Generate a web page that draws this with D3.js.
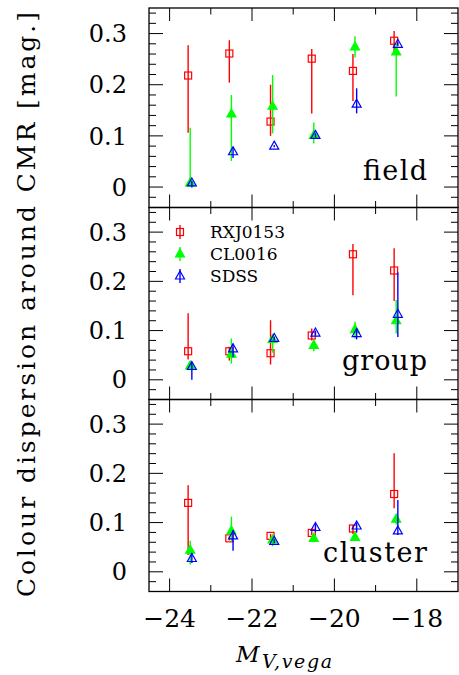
<!DOCTYPE html>
<html><head><meta charset="utf-8">
<script src="https://cdn.jsdelivr.net/npm/d3@7"></script>
<style>body{margin:0;background:#fff}svg{display:block}</style>
</head><body>
<script>
// ---- data ----
const xTicks = [-24, -23, -22, -21, -20, -19, -18];
const xTickLabels = ["\u221224", "\u221222", "\u221220", "\u221218"];
const yTicks = [0, 0.1, 0.2, 0.3];
const yTickLabels = ["0", "0.1", "0.2", "0.3"];
const panelNames = ["field", "group", "cluster"];
const seriesNames = ["RXJ0153", "CL0016", "SDSS"];

// magnitudes for each sample
const xRXJ = [-23.55, -22.55, -21.55, -20.55, -19.55, -18.55];
const xCL = [-23.50, -22.50, -21.50, -20.50, -19.50, -18.50];
const xSDSS = [-23.46, -22.46, -21.46, -20.46, -19.46, -18.46];

// [value, lower, upper]
const fieldRXJ = [[0.218,0.106,0.277],[0.261,0.204,0.287],[0.128,0.100,0.200],[0.251,0.144,0.270],[0.227,0.168,0.260],[0.286,0.264,0.305]];
const fieldCL = [[0.008,0.003,0.116],[0.143,0.051,0.180],[0.158,0.105,0.219],[0.101,0.085,0.126],[0.274,0.253,0.295],[0.264,0.177,0.280]];
const fieldSDSS = [[0.008,-0.001,0.012],[0.069,0.057,0.078],[0.080,0.078,0.082],[0.101,0.097,0.105],[0.162,0.144,0.193],[0.279,0.275,0.283]];

const groupRXJ = [[0.058,0.041,0.135],[0.058,0.039,0.067],[0.054,0.031,0.121],[0.090,0.080,0.104],[0.255,0.172,0.276],[0.222,0.160,0.267]];
const groupCL = [[0.028,0.024,0.032],[0.052,0.033,0.084],[0.082,0.055,0.092],[0.070,0.058,0.080],[0.102,0.084,0.118],[0.120,0.094,0.162]];
const groupSDSS = [[0.027,0.000,0.036],[0.063,0.046,0.073],[0.084,0.080,0.088],[0.095,0.090,0.100],[0.094,0.082,0.104],[0.133,0.087,0.218]];

const clusterRXJ = [[0.140,0.034,0.176],[0.068,0.064,0.072],[0.073,0.069,0.077],[0.079,0.075,0.083],[0.088,0.077,0.095],[0.158,0.129,0.241]];
const clusterCL = [[0.044,0.015,0.063],[0.083,0.061,0.112],[0.065,0.052,0.070],[0.068,0.060,0.075],[0.070,0.066,0.074],[0.107,0.096,0.113]];
const clusterSDSS = [[0.027,0.018,0.038],[0.073,0.043,0.085],[0.062,0.058,0.066],[0.090,0.081,0.097],[0.093,0.080,0.100],[0.083,0.075,0.146]];

const panelData = [
  [fieldRXJ, fieldCL, fieldSDSS],
  [groupRXJ, groupCL, groupSDSS],
  [clusterRXJ, clusterCL, clusterSDSS]
];
const seriesX = [xRXJ, xCL, xSDSS];
const colors = ["#ff0000", "#00ff00", "#0000ff"];

// ---- layout ----
const W = 459, H = 675;
const left = 149, right = 458;
const panelEdges = [8, 207.5, 399.5, 591.5];
const serif = "'DejaVu Serif', 'Liberation Serif', serif";

const svg = d3.select("body").append("svg").attr("width", W).attr("height", H);

const x = d3.scaleLinear().domain([-24.5, -17]).range([left, right]);

function marker(g, type, cx, cy, color) {
  if (type === 0) {
    g.append("rect").attr("x", cx - 3.5).attr("y", cy - 3.5).attr("width", 7).attr("height", 7)
      .attr("fill", "none").attr("stroke", color).attr("stroke-width", 1.2);
  } else {
    const pts = [[cx, cy - 5], [cx + 4.5, cy + 3], [cx - 4.5, cy + 3]].map(p => p.join(",")).join(" ");
    g.append("polygon").attr("points", pts)
      .attr("fill", type === 1 ? color : "none").attr("stroke", color).attr("stroke-width", 1.2);
  }
}

const labelLen = [64, 85, 104];
const labelBase = [180, 370, 562];

panelNames.forEach((name, pi) => {
  const top = panelEdges[pi], bottom = panelEdges[pi + 1];
  const y = d3.scaleLinear().domain([-0.04, 0.35]).range([bottom, top]);
  const g = svg.append("g");

  // y ticks (minor every 0.02, major every 0.1), left and right
  const yMinor = d3.range(-0.04, 0.3501, 0.02);
  yMinor.forEach(v => {
    const isMajor = yTicks.some(t => Math.abs(t - v) < 1e-6);
    const len = isMajor ? 14 : 7;
    const yy = y(v);
    if (yy <= top + 0.5 || yy >= bottom - 0.5) return;
    g.append("line").attr("x1", left).attr("x2", left + len).attr("y1", yy).attr("y2", yy)
      .attr("stroke", "#000").attr("stroke-width", 1);
    g.append("line").attr("x1", right - len).attr("x2", right).attr("y1", yy).attr("y2", yy)
      .attr("stroke", "#000").attr("stroke-width", 1);
  });
  // y tick labels
  yTicks.forEach((t, i) => {
    g.append("text").attr("x", 127).attr("y", y(t)).attr("dy", "0.36em")
      .attr("text-anchor", "end").attr("font-family", serif).attr("font-size", 24)
      .text(yTickLabels[i]);
  });
  // x ticks top and bottom
  xTicks.forEach(t => {
    const len = (t % 2 === 0) ? 13 : 6.5;
    const xx = x(t);
    g.append("line").attr("x1", xx).attr("x2", xx).attr("y1", top).attr("y2", top + len)
      .attr("stroke", "#000").attr("stroke-width", 1);
    g.append("line").attr("x1", xx).attr("x2", xx).attr("y1", bottom - len).attr("y2", bottom)
      .attr("stroke", "#000").attr("stroke-width", 1);
  });
  // frame
  g.append("rect").attr("x", left).attr("y", top).attr("width", right - left).attr("height", bottom - top)
    .attr("fill", "none").attr("stroke", "#000").attr("stroke-width", 1.3);

  // data
  panelData[pi].forEach((ser, si) => {
    const sg = g.append("g");
    ser.forEach((d, k) => {
      const xx = x(seriesX[si][k]);
      sg.append("line").attr("x1", xx).attr("x2", xx).attr("y1", y(d[1])).attr("y2", y(d[2]))
        .attr("stroke", colors[si]).attr("stroke-width", 1.4);
    });
    ser.forEach((d, k) => {
      marker(sg, si, x(seriesX[si][k]), y(d[0]), colors[si]);
    });
  });

  // panel label
  g.append("text").attr("x", 427 - labelLen[pi]).attr("y", labelBase[pi])
    .attr("textLength", labelLen[pi]).attr("lengthAdjust", "spacing")
    .attr("font-family", serif).attr("font-size", 27).text(name);
});

// legend in group panel
const legY = [232, 254, 276];
seriesNames.forEach((s, i) => {
  const lg = svg.append("g");
  lg.append("line").attr("x1", 180).attr("x2", 180).attr("y1", legY[i] - 7).attr("y2", legY[i] + 7)
    .attr("stroke", colors[i]).attr("stroke-width", 1.4);
  marker(lg, i, 180, legY[i], colors[i]);
  lg.append("text").attr("x", 210).attr("y", legY[i]).attr("dy", "0.36em")
    .attr("font-family", serif).attr("font-size", 17).text(s);
});

// x tick labels
const xLab = [-24, -22, -20, -18];
xLab.forEach((t, i) => {
  svg.append("text").attr("x", x(t)).attr("y", 627).attr("text-anchor", "middle")
    .attr("font-family", serif).attr("font-size", 25).text(xTickLabels[i]);
});

// x axis title
svg.append("text").attr("x", 236).attr("y", 662)
  .attr("font-family", serif).attr("font-style", "italic").attr("font-size", 23).text("M");
svg.append("text").attr("x", 262).attr("y", 668)
  .attr("font-family", serif).attr("font-style", "italic").attr("font-size", 19)
  .attr("textLength", 70).attr("lengthAdjust", "spacing").text("V,vega");

// y axis title
svg.append("text").attr("transform", "translate(35,304.5) rotate(-90)")
  .attr("text-anchor", "middle").attr("font-family", serif).attr("font-size", 25)
  .attr("textLength", 585).attr("lengthAdjust", "spacing")
  .text("Colour dispersion around CMR [mag.]");
</script>
</body></html>
